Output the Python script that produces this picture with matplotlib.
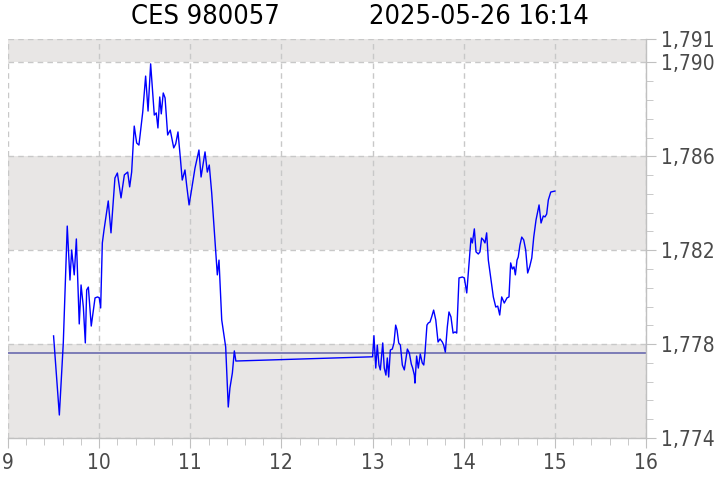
import matplotlib
matplotlib.use("Agg")
import matplotlib.pyplot as plt
from matplotlib.ticker import FixedLocator, FuncFormatter, MultipleLocator

title_left = "CES 980057"
title_right = "2025-05-26 16:14"

# minutes after 09:00
minutes = [30, 33.8, 36.4, 39.0, 40.8, 41.9, 43.6, 45.0, 46.9, 48.1, 49.6, 50.9, 51.8, 52.9,
           54.8, 57.3, 59.0, 60.1, 61.0, 62.1, 63.2, 66.0, 67.8, 70.4, 72.0, 74.4, 76.6, 78.8,
           80.1, 81.4, 83.1, 84.7, 86.2, 88.7, 90.6, 92.2, 93.9, 96.3, 97.6, 98.7, 99.9, 100.9,
           102.2, 103.4, 105.1, 106.8, 109.1, 110.4, 111.9, 113.4, 114.7, 116.5, 117.6, 119.2,
           120.5, 123.1, 125.7, 127.1, 129.7, 131.2, 132.5, 134.1, 137.8, 138.9, 140.7, 143.3,
           145.0, 146.1, 147.7, 149.0, 150.0,
           240.0, 240.9, 242.1, 243.1, 244.2, 245.1, 246.0, 246.7, 247.7, 248.8, 249.7, 250.6,
           251.7, 253.0, 254.1, 255.2, 256.1, 257.2, 258.3, 259.6, 260.9, 262.9, 264.2, 265.5,
           266.4, 267.5, 267.9, 269.0, 270.1, 271.4, 272.7, 273.7, 274.5, 275.8, 276.7, 277.8,
           278.9, 280.2, 281.6, 283.1, 284.4, 285.9, 286.8, 287.9, 289.2, 290.3, 291.6, 293.0,
           294.3, 295.4, 296.9, 299.1, 300.4, 302.0, 303.5, 304.8, 305.7, 307.0, 308.1, 309.6,
           310.7, 311.8, 312.9, 314.0, 315.1, 316.2, 318.0, 319.5, 321.1, 322.4, 323.7, 325.0,
           326.7, 328.5, 329.8, 330.9, 332.0, 333.1, 334.0, 335.1, 335.9, 337.0, 338.2, 339.5,
           340.8, 342.1, 343.4, 344.8, 346.1, 347.6, 349.6, 350.9, 352.4, 353.5, 354.6, 355.7,
           357.3, 360.0]
prices = [1778.35, 1774.98, 1778.05, 1783.03, 1780.73, 1782.01, 1780.95, 1782.48, 1778.86,
          1780.52, 1779.58, 1778.05, 1780.31, 1780.43, 1778.77, 1779.97, 1780.01, 1779.97,
          1779.54, 1782.31, 1782.86, 1784.10, 1782.74, 1785.08, 1785.29, 1784.23, 1785.21,
          1785.33, 1784.70, 1785.33, 1787.29, 1786.57, 1786.48, 1787.89, 1789.42, 1787.93,
          1789.94, 1787.76, 1787.85, 1787.21, 1788.53, 1787.81, 1788.70, 1788.49, 1786.91,
          1787.12, 1786.36, 1786.53, 1787.04, 1785.97, 1784.99, 1785.42, 1784.78, 1783.93,
          1784.44, 1785.50, 1786.27, 1785.12, 1786.19, 1785.33, 1785.63, 1784.44, 1780.95,
          1781.58, 1779.03, 1777.88, 1775.32, 1776.13, 1776.77, 1777.71, 1777.28,
          1777.46, 1778.36, 1776.98, 1777.96, 1777.11, 1776.90, 1777.54, 1778.05, 1776.98,
          1776.68, 1777.41, 1776.60, 1777.75, 1777.79, 1778.05, 1778.81, 1778.60, 1778.05,
          1777.96, 1777.11, 1776.90, 1777.79, 1777.62, 1777.15, 1776.98, 1776.68, 1776.34,
          1777.49, 1776.98, 1777.58, 1777.20, 1777.11, 1777.62, 1778.81, 1778.90, 1778.94,
          1779.16, 1779.45, 1779.03, 1778.09, 1778.22, 1778.09, 1777.96, 1777.66, 1778.73,
          1779.37, 1779.16, 1778.47, 1778.52, 1778.47, 1780.82, 1780.86, 1780.82, 1780.18,
          1781.46, 1782.52, 1782.31, 1782.91, 1781.93, 1781.84, 1781.93, 1782.52, 1782.44,
          1782.31, 1782.74, 1781.58, 1780.73, 1780.01, 1779.58, 1779.62, 1779.24, 1780.01,
          1779.75, 1779.97, 1780.01, 1781.46, 1781.20, 1781.29, 1780.95, 1781.58, 1781.71,
          1782.22, 1782.56, 1782.44, 1782.01, 1781.03, 1781.29, 1781.67, 1782.56, 1783.29,
          1783.93, 1783.16, 1783.46, 1783.42, 1783.54, 1784.14, 1784.48, 1784.52]
prev_close = 1777.61

x_ticks = [9, 10, 11, 12, 13, 14, 15, 16]
y_ticks = [1774, 1778, 1782, 1786, 1790, 1791]
bands = [(1774, 1778), (1782, 1786), (1790, 1791)]

font = dict(family="DejaVu Sans", stretch="condensed")

fig = plt.figure(figsize=(7.2, 4.8), dpi=100)
ax = fig.add_axes([8 / 720, 1 - 438 / 480, 638 / 720, 399 / 480])

for lo, hi in bands:
    ax.axhspan(lo, hi, color="#e8e6e5", zorder=0, lw=0)

hours = [9 + m / 60 for m in minutes]
ax.axhline(prev_close, color="#7373b3", lw=1.3, zorder=2)
ax.plot(hours, prices, color="#0000ff", lw=1.0, zorder=3)

ax.set_xlim(9, 16)
ax.set_ylim(1774, 1791)
ax.xaxis.set_major_locator(FixedLocator(x_ticks))
ax.xaxis.set_minor_locator(MultipleLocator(0.2))
ax.yaxis.set_major_locator(FixedLocator(y_ticks))
ax.yaxis.set_minor_locator(FixedLocator([1774 + 0.8 * i for i in range(21)]))
ax.yaxis.set_major_formatter(FuncFormatter(lambda v, p: f"{v:,.0f}"))
ax.yaxis.tick_right()

ax.grid(True, which="major", color="#c8c8c8", ls=(0, (4, 3)), lw=1.0, zorder=1)
ax.set_axisbelow(True)

for s in ["top", "left"]:
    ax.spines[s].set_visible(False)
for s in ["right", "bottom"]:
    ax.spines[s].set_color("#c0c0c0")
    ax.spines[s].set_linewidth(1.0)

ax.tick_params(which="major", length=7, color="#c0c0c0", labelcolor="#4a4a4a", labelsize=15)
ax.tick_params(which="minor", length=5, color="#c0c0c0")
for lab in ax.get_xticklabels() + ax.get_yticklabels():
    lab.set_fontstretch("condensed")
    lab.set_family("DejaVu Sans")

fig.text(205 / 720, 1 - 17 / 480, title_left, ha="center", va="center", fontsize=19.5, color="#000000", **font)
fig.text(479 / 720, 1 - 17 / 480, title_right, ha="center", va="center", fontsize=19.5, color="#000000", **font)

fig.savefig("out.png", dpi=100)
